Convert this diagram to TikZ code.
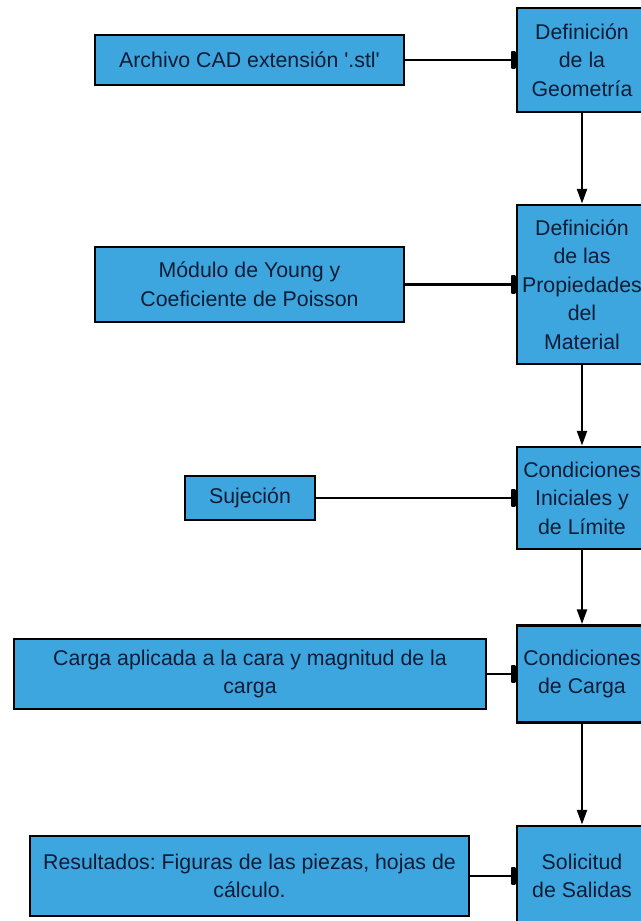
\documentclass[tikz,border=0pt]{standalone}
\usepackage{fontspec}
\setmainfont{Liberation Sans}
\usetikzlibrary{arrows.meta}

\definecolor{cajaazul}{HTML}{3DA6DF}
\definecolor{textoazul}{HTML}{0E1D35}
\frenchspacing

\begin{document}
\begin{tikzpicture}[x=0.75pt,y=-0.75pt,
    caja/.style={draw=black,line width=2.2pt,fill=cajaazul,text=textoazul,
        align=center,inner sep=1pt,font=\fontsize{16}{21.4}\selectfont},
    flecha/.style={line width=1.6pt,-{Triangle[length=11pt,width=7.5pt]}},
    enlace/.style={line width=1.7pt,-{Rectangle[round,length=3.5pt,width=14pt,fill=black!80]}}]
        \useasboundingbox (0,0) rectangle (641,921);
        % columna derecha
        \node[caja,minimum width=97.5pt,minimum height=78pt] (geometria) at (582,60) {Definición\\de la\\Geometría};
        \node[caja,minimum width=97.5pt,minimum height=119.25pt] (propiedades) at (582,284.5) {Definición\\de las\\Propiedades\\del\\Material};
        \node[caja,minimum width=97.5pt,minimum height=76.5pt] (limite) at (582,498) {Condiciones\\Iniciales y\\de Límite};
        \node[caja,minimum width=97.5pt,minimum height=72.75pt] (carga) at (582,674) {Condiciones\\de Carga};
        \node[caja,minimum width=97.5pt,minimum height=75pt] (salidas) at (582,876) {Solicitud\\de Salidas};
        % columna izquierda
        \node[caja,minimum width=231.75pt,minimum height=37.5pt] (archivo) at (249.5,60) {Archivo CAD extensión \textquotesingle.stl\textquotesingle};
        \node[caja,minimum width=231.75pt,minimum height=56.25pt] (modulo) at (249.5,284.5) {Módulo de Young y\\Coeficiente de Poisson};
        \node[caja,minimum width=97.5pt,minimum height=33pt] (sujecion) at (250,498) {Sujeción};
        \node[caja,minimum width=354pt,minimum height=52.5pt] (aplicada) at (250,674) {Carga aplicada a la cara y magnitud de la\\carga};
        \node[caja,minimum width=329.25pt,minimum height=60pt] (resultados) at (249.5,876) {Resultados: Figuras de las piezas, hojas de\\cálculo.};
        % flechas
        \draw[flecha] (geometria) -- (propiedades);
        \draw[flecha] (propiedades) -- (limite);
        \draw[flecha] (limite) -- (carga);
        \draw[flecha] (carga) -- (salidas);
        % enlaces
        \draw[enlace] (archivo.east) -- (geometria.west);
        \draw[enlace] (modulo.east) -- (propiedades.west);
        \draw[enlace] (sujecion.east) -- (limite.west);
        \draw[enlace] (aplicada.east) -- (carga.west);
        \draw[enlace] (resultados.east) -- (salidas.west);
    \end{tikzpicture}
\end{document}
